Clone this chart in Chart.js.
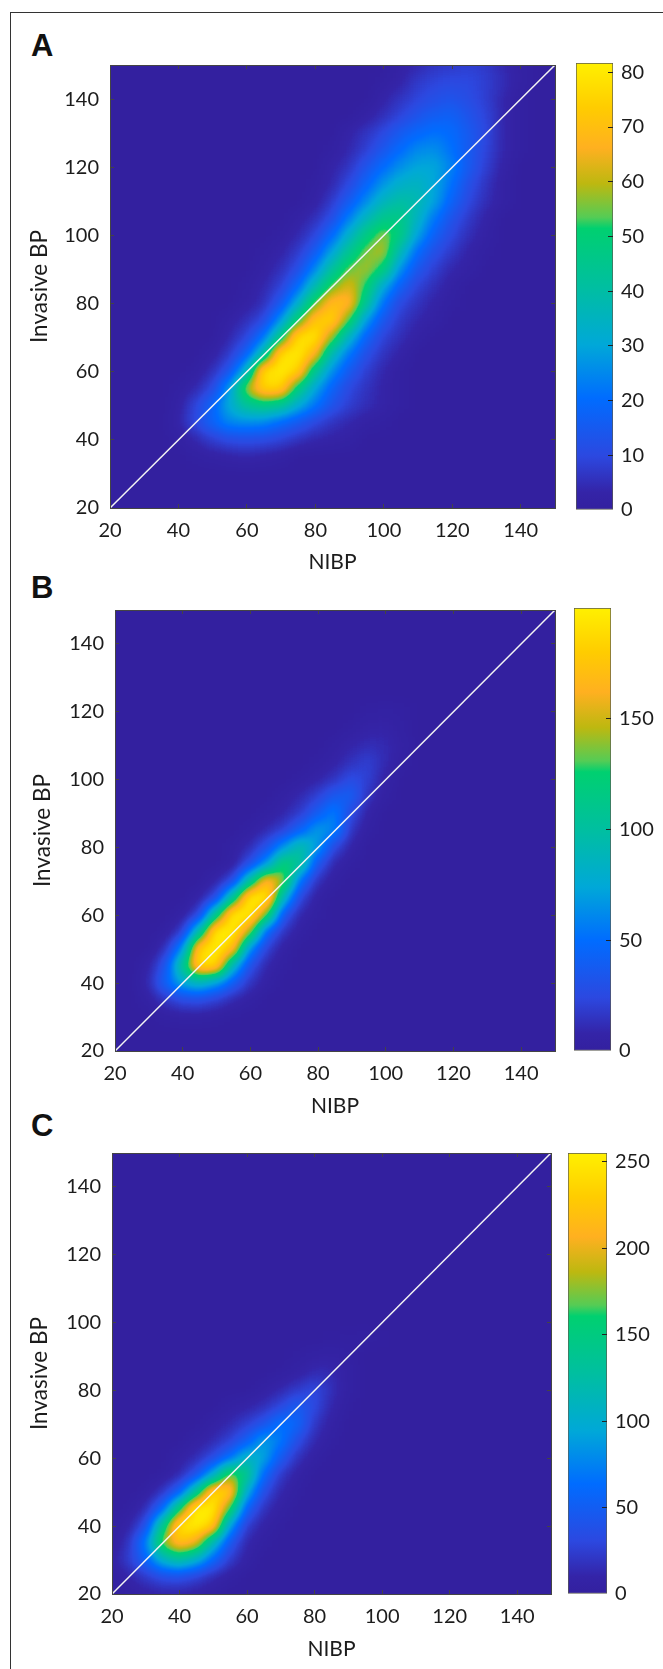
<!DOCTYPE html>
<html>
<head>
<meta charset="utf-8">
<title>NIBP vs invasive BP</title>
<script src="https://cdn.jsdelivr.net/npm/chart.js@4"></script>
<style>
html, body { margin: 0; padding: 0; background: #fff; }
body { position: relative; width: 663px; height: 1669px; overflow: hidden; }
canvas { position: absolute; }
#frame { position: absolute; left: 10px; top: 12px; width: 660px; height: 1670px; border: 1px solid #333; }
.letter { position: absolute; left: 31px; font: bold 31px "Liberation Sans", Arial, sans-serif; color: #111; line-height: 31px; }
</style>
</head>
<body>
<div id="frame"></div>
<div class="letter" style="top:30px">A</div>
<div class="letter" style="top:572px">B</div>
<div class="letter" style="top:1110px">C</div>
<script>
// heatmap grid, NIBP across, invasive BP down
const gridX = [20,25,30,35,40,45,50,55,60,65,70,75,80,85,90,95,100,105,110,115,120,125,130,135,140,145,150];
const gridY = [150,145,140,135,130,125,120,115,110,105,100,95,90,85,80,75,70,65,60,55,50,45,40,35,30,25,20];

const axisTicks = [20,40,60,80,100,120,140];
const colorbarTicksA = [10,20,30,40,50,60,70,80];
const colorbarTicksB = [50,100,150];
const colorbarTicksC = [50,100,150,200,250];

const heatA = [
  [0,0,0,0,0,0,0,0,0,0,0,0,0,0,0,0,0,2,4,6,7,8,7,4,2,0,0],
  [0,0,0,0,0,0,0,0,0,0,0,0,0,0,0,0,1,3,7,9,10,10,8,5,2,0,0],
  [0,0,0,0,0,0,0,0,0,0,0,0,0,0,0,0,3,6,9,12,13,11,8,4,1,0,0],
  [0,0,0,0,0,0,0,0,0,0,0,0,0,0,0,2,5,9,13,16,17,13,9,4,1,0,0],
  [0,0,0,0,0,0,0,0,0,0,0,0,0,0,3,6,10,15,19,21,20,15,10,4,1,0,0],
  [0,0,0,0,0,0,0,0,0,0,0,0,0,1,4,8,14,20,25,26,21,15,9,4,1,0,0],
  [0,0,0,0,0,0,0,0,0,0,0,0,0,3,6,13,20,26,30,30,24,15,8,3,0,0,0],
  [0,0,0,0,0,0,0,0,0,0,0,0,1,4,10,18,27,33,35,30,21,12,6,2,0,0,0],
  [0,0,0,0,0,0,0,0,0,0,0,0,2,7,15,25,35,40,38,29,18,10,5,2,0,0,0],
  [0,0,0,0,0,0,0,0,0,0,0,2,5,11,23,35,45,47,35,22,13,7,3,0,0,0,0],
  [0,0,0,0,0,0,0,0,0,0,1,4,9,19,33,47,57,48,29,17,10,5,2,0,0,0,0],
  [0,0,0,0,0,0,0,0,0,1,3,7,15,29,44,56,60,37,20,12,7,3,1,0,0,0,0],
  [0,0,0,0,0,0,0,0,0,2,5,11,24,41,55,59,50,26,14,8,4,2,0,0,0,0,0],
  [0,0,0,0,0,0,0,0,1,4,8,19,37,54,63,52,31,17,9,5,2,0,0,0,0,0,0],
  [0,0,0,0,0,0,0,0,2,5,14,31,54,70,70,44,21,10,6,3,1,0,0,0,0,0,0],
  [0,0,0,0,0,0,0,2,5,10,26,50,72,76,54,28,14,7,4,2,0,0,0,0,0,0,0],
  [0,0,0,0,0,0,0,4,9,21,45,78,80,58,34,18,9,5,2,0,0,0,0,0,0,0,0],
  [0,0,0,0,0,0,2,7,17,38,78,81,68,37,22,12,6,3,0,0,0,0,0,0,0,0,0],
  [0,0,0,0,0,1,5,13,33,78,81,76,44,26,15,8,4,1,0,0,0,0,0,0,0,0,0],
  [0,0,0,0,1,4,10,27,58,76,76,48,30,18,10,6,3,1,0,0,0,0,0,0,0,0,0],
  [0,0,0,0,2,9,18,31,43,47,44,32,22,13,8,5,3,1,0,0,0,0,0,0,0,0,0],
  [0,0,0,0,3,10,18,25,26,25,20,15,10,6,4,2,1,0,0,0,0,0,0,0,0,0,0],
  [0,0,0,0,1,4,8,11,12,11,9,6,4,3,2,0,0,0,0,0,0,0,0,0,0,0,0],
  [0,0,0,0,0,1,2,3,4,3,2,0,0,0,0,0,0,0,0,0,0,0,0,0,0,0,0],
  [0,0,0,0,0,0,0,0,0,0,0,0,0,0,0,0,0,0,0,0,0,0,0,0,0,0,0],
  [0,0,0,0,0,0,0,0,0,0,0,0,0,0,0,0,0,0,0,0,0,0,0,0,0,0,0],
  [0,0,0,0,0,0,0,0,0,0,0,0,0,0,0,0,0,0,0,0,0,0,0,0,0,0,0]
];

const heatB = [
  [0,0,0,0,0,0,0,0,0,0,0,0,0,0,0,0,0,0,0,0,0,0,0,0,0,0,0],
  [0,0,0,0,0,0,0,0,0,0,0,0,0,0,0,0,0,0,0,0,0,0,0,0,0,0,0],
  [0,0,0,0,0,0,0,0,0,0,0,0,0,0,0,0,0,0,0,0,0,0,0,0,0,0,0],
  [0,0,0,0,0,0,0,0,0,0,0,0,0,0,0,0,0,0,0,0,0,0,0,0,0,0,0],
  [0,0,0,0,0,0,0,0,0,0,0,0,0,0,0,0,0,0,0,0,0,0,0,0,0,0,0],
  [0,0,0,0,0,0,0,0,0,0,0,0,0,0,0,0,0,0,0,0,0,0,0,0,0,0,0],
  [0,0,0,0,0,0,0,0,0,0,0,0,0,0,0,2,3,2,0,0,0,0,0,0,0,0,0],
  [0,0,0,0,0,0,0,0,0,0,0,0,0,0,2,6,7,3,0,0,0,0,0,0,0,0,0],
  [0,0,0,0,0,0,0,0,0,0,0,0,0,3,8,12,11,5,0,0,0,0,0,0,0,0,0],
  [0,0,0,0,0,0,0,0,0,0,0,0,2,6,14,20,11,3,0,0,0,0,0,0,0,0,0],
  [0,0,0,0,0,0,0,0,0,0,0,2,7,15,27,20,6,0,0,0,0,0,0,0,0,0,0],
  [0,0,0,0,0,0,0,0,0,0,4,10,20,36,40,14,3,0,0,0,0,0,0,0,0,0,0],
  [0,0,0,0,0,0,0,0,0,3,9,18,38,58,26,6,0,0,0,0,0,0,0,0,0,0,0],
  [0,0,0,0,0,0,0,0,3,10,20,42,70,60,15,3,0,0,0,0,0,0,0,0,0,0,0],
  [0,0,0,0,0,0,0,3,11,30,65,98,70,24,7,0,0,0,0,0,0,0,0,0,0,0,0],
  [0,0,0,0,0,0,0,4,28,65,125,105,34,9,2,0,0,0,0,0,0,0,0,0,0,0,0],
  [0,0,0,0,0,0,7,25,100,175,140,50,13,3,0,0,0,0,0,0,0,0,0,0,0,0,0],
  [0,0,0,0,0,6,25,105,199,199,85,22,5,0,0,0,0,0,0,0,0,0,0,0,0,0,0],
  [0,0,0,0,4,22,110,199,199,135,34,9,2,0,0,0,0,0,0,0,0,0,0,0,0,0,0],
  [0,0,0,2,18,95,199,199,145,45,14,4,0,0,0,0,0,0,0,0,0,0,0,0,0,0,0],
  [0,0,0,13,60,185,199,175,62,20,5,0,0,0,0,0,0,0,0,0,0,0,0,0,0,0,0],
  [0,0,6,32,105,190,190,85,30,9,2,0,0,0,0,0,0,0,0,0,0,0,0,0,0,0,0],
  [0,0,10,42,75,88,70,40,15,5,0,0,0,0,0,0,0,0,0,0,0,0,0,0,0,0,0],
  [0,0,5,16,26,28,20,10,4,0,0,0,0,0,0,0,0,0,0,0,0,0,0,0,0,0,0],
  [0,0,0,3,5,5,3,1,0,0,0,0,0,0,0,0,0,0,0,0,0,0,0,0,0,0,0],
  [0,0,0,0,0,0,0,0,0,0,0,0,0,0,0,0,0,0,0,0,0,0,0,0,0,0,0],
  [0,0,0,0,0,0,0,0,0,0,0,0,0,0,0,0,0,0,0,0,0,0,0,0,0,0,0]
];

const heatC = [
  [0,0,0,0,0,0,0,0,0,0,0,0,0,0,0,0,0,0,0,0,0,0,0,0,0,0,0],
  [0,0,0,0,0,0,0,0,0,0,0,0,0,0,0,0,0,0,0,0,0,0,0,0,0,0,0],
  [0,0,0,0,0,0,0,0,0,0,0,0,0,0,0,0,0,0,0,0,0,0,0,0,0,0,0],
  [0,0,0,0,0,0,0,0,0,0,0,0,0,0,0,0,0,0,0,0,0,0,0,0,0,0,0],
  [0,0,0,0,0,0,0,0,0,0,0,0,0,0,0,0,0,0,0,0,0,0,0,0,0,0,0],
  [0,0,0,0,0,0,0,0,0,0,0,0,0,0,0,0,0,0,0,0,0,0,0,0,0,0,0],
  [0,0,0,0,0,0,0,0,0,0,0,0,0,0,0,0,0,0,0,0,0,0,0,0,0,0,0],
  [0,0,0,0,0,0,0,0,0,0,0,0,0,0,0,0,0,0,0,0,0,0,0,0,0,0,0],
  [0,0,0,0,0,0,0,0,0,0,0,0,0,0,0,0,0,0,0,0,0,0,0,0,0,0,0],
  [0,0,0,0,0,0,0,0,0,0,0,0,0,0,0,0,0,0,0,0,0,0,0,0,0,0,0],
  [0,0,0,0,0,0,0,0,0,0,0,0,0,0,0,0,0,0,0,0,0,0,0,0,0,0,0],
  [0,0,0,0,0,0,0,0,0,0,0,0,0,1,2,3,1,0,0,0,0,0,0,0,0,0,0],
  [0,0,0,0,0,0,0,0,0,0,0,2,5,7,4,0,0,0,0,0,0,0,0,0,0,0,0],
  [0,0,0,0,0,0,0,0,0,0,2,6,14,14,5,0,0,0,0,0,0,0,0,0,0,0,0],
  [0,0,0,0,0,0,0,0,0,5,12,22,32,17,5,0,0,0,0,0,0,0,0,0,0,0,0],
  [0,0,0,0,0,0,0,5,9,16,30,50,32,12,2,0,0,0,0,0,0,0,0,0,0,0,0],
  [0,0,0,0,0,0,6,13,24,40,68,58,22,7,0,0,0,0,0,0,0,0,0,0,0,0,0],
  [0,0,0,0,0,6,13,26,50,90,72,36,13,3,0,0,0,0,0,0,0,0,0,0,0,0,0],
  [0,0,0,0,6,14,32,62,110,95,48,18,5,0,0,0,0,0,0,0,0,0,0,0,0,0,0],
  [0,0,0,2,12,38,95,180,145,62,22,7,0,0,0,0,0,0,0,0,0,0,0,0,0,0,0],
  [0,0,3,18,50,130,240,235,100,36,12,3,0,0,0,0,0,0,0,0,0,0,0,0,0,0,0],
  [0,2,14,55,150,255,255,170,55,18,6,0,0,0,0,0,0,0,0,0,0,0,0,0,0,0,0],
  [2,8,35,135,245,255,235,90,25,8,2,0,0,0,0,0,0,0,0,0,0,0,0,0,0,0,0],
  [2,18,70,175,225,205,115,45,12,3,0,0,0,0,0,0,0,0,0,0,0,0,0,0,0,0,0],
  [6,24,55,105,130,105,60,24,7,0,0,0,0,0,0,0,0,0,0,0,0,0,0,0,0,0,0],
  [2,10,22,35,38,28,14,5,0,0,0,0,0,0,0,0,0,0,0,0,0,0,0,0,0,0,0],
  [0,3,7,10,10,7,3,0,0,0,0,0,0,0,0,0,0,0,0,0,0,0,0,0,0,0,0]
];

const identityLine = [20, 150];

// colour scale (fraction of range, colour)
const mapStops = [0, 0.04, 0.12, 0.25, 0.37, 0.5, 0.63, 0.655, 0.73, 0.81, 0.9, 1];
const mapColors = ['#33209f','#3424a8','#2c48e0','#006cff','#00a8d8','#00bfa0','#00d070','#55cc55','#bdb810','#ffb020','#ffcc00','#fff000'];

const textColor = '#1c1c1c';
const lineColor = '#444';
const tickFont = { family: 'Lato', size: 20 };
const xTitleFont = { family: 'Lato', size: 21 };
const yTitleFont = { family: 'Lato', size: 22.5 };
const blurPx = 7;

function hexToRgb(h) {
  return [parseInt(h.substr(1,2),16), parseInt(h.substr(3,2),16), parseInt(h.substr(5,2),16)];
}

function colorAt(f) {
  for (let i = 1; i < mapStops.length; i++) {
    if (f <= mapStops[i]) {
      let t = (f - mapStops[i-1]) / (mapStops[i] - mapStops[i-1]);
      let a = hexToRgb(mapColors[i-1]), b = hexToRgb(mapColors[i]);
      return a.map((v, k) => Math.round(v + (b[k]-v)*t));
    }
  }
  return hexToRgb(mapColors[mapColors.length-1]);
}

var lut = [];
for (let i = 0; i < 256; i++) lut.push(colorAt(i / 255));

function addCanvas(left, top, width, height) {
  let c = document.createElement('canvas');
  c.width = width;
  c.height = height;
  c.style.left = left + 'px';
  c.style.top = top + 'px';
  c.style.width = width + 'px';
  c.style.height = height + 'px';
  document.body.appendChild(c);
  return c;
}

// cells are painted as grey levels, smoothed, then pushed through the colour scale
const smoothCells = {
  id: 'smoothCells',
  afterDatasetDraw(chart, args) {
    if (args.index !== 1) return;
    let a = chart.chartArea, ctx = chart.ctx, src = chart.canvas;
    let l = Math.round(a.left), t = Math.round(a.top), w = Math.round(a.width), h = Math.round(a.height);
    let m = 24;

    let tmp = document.createElement('canvas');
    tmp.width = w + m*2;
    tmp.height = h + m*2;
    let tc = tmp.getContext('2d');
    tc.fillStyle = '#000';
    tc.fillRect(0, 0, tmp.width, tmp.height);
    tc.drawImage(src, l, t, w, 1, m, 0, w, m);
    tc.drawImage(src, l, t+h-1, w, 1, m, m+h, w, m);
    tc.drawImage(src, l, t, 1, h, 0, m, m, h);
    tc.drawImage(src, l+w-1, t, 1, h, m+w, m, m, h);
    tc.drawImage(src, l, t, w, h, m, m, w, h);

    let out = document.createElement('canvas');
    out.width = w;
    out.height = h;
    let oc = out.getContext('2d');
    oc.filter = `blur(${blurPx}px)`;
    oc.drawImage(tmp, -m, -m);
    oc.filter = 'none';

    let img = oc.getImageData(0, 0, w, h);
    for (let i = 0; i < img.data.length; i += 4) {
      let c = lut[img.data[i]];
      img.data[i] = c[0];
      img.data[i+1] = c[1];
      img.data[i+2] = c[2];
      img.data[i+3] = 255;
    }
    ctx.putImageData(img, l, t);
  }
};

function useTicks(values) {
  return (s) => { s.ticks = values.map(v => ({ value: v })); };
}

function axisOptions(position, extra) {
  return Object.assign({
    type: 'linear',
    position: position,
    min: 20,
    max: 150,
    afterBuildTicks: useTicks(axisTicks),
    grid: { drawOnChartArea: false, tickLength: -4, color: lineColor, z: 1 },
    border: { color: lineColor, width: 1, z: 1 }
  }, extra);
}

function drawPanel(p) {
  let yAxisW = p.left - p.yTitleX + 13;
  let xAxisH = p.xTitleY + 13 - p.bottom;
  let cv = addCanvas(p.left - yAxisW, p.top - 4, p.right - p.left + yAxisW + 4, p.bottom - p.top + 4 + xAxisH);

  let cells = [];
  gridY.forEach((y, r) => gridX.forEach((x, k) => cells.push({ x: x, y: y, v: p.heat[r][k] })));

  new Chart(cv, {
    type: 'scatter',
    data: {
      datasets: [
        {
          data: identityLine.map(v => ({ x: v, y: v })),
          showLine: true,
          borderColor: '#f4f4f4',
          borderWidth: 1.5,
          pointRadius: 0
        },
        {
          data: cells,
          clip: 0,
          pointStyle: 'rect',
          borderWidth: 0,
          pointRadius: (c) => {
            let s = c.chart.scales.x;
            return (s.getPixelForValue(25) - s.getPixelForValue(20)) * Math.SQRT1_2 + 1;
          },
          backgroundColor: (c) => {
            let g = c.raw ? Math.round(255 * Math.min(1, c.raw.v / p.max)) : 0;
            return `rgb(${g},${g},${g})`;
          }
        }
      ]
    },
    options: {
      responsive: false,
      animation: false,
      events: [],
      layout: { padding: { top: 4, right: 4, left: 0, bottom: 0 } },
      plugins: { legend: { display: false }, tooltip: { enabled: false } },
      scales: {
        x: axisOptions('bottom', {
          afterFit: (s) => { s.height = xAxisH; s.paddingLeft = 0; s.paddingRight = 0; },
          title: { display: true, text: 'NIBP', color: textColor, font: xTitleFont, padding: 0 },
          ticks: { maxRotation: 0, autoSkip: false, color: textColor, font: tickFont, padding: 15 }
        }),
        y: axisOptions('left', {
          afterFit: (s) => { s.width = yAxisW; s.paddingTop = 0; s.paddingBottom = 0; },
          title: { display: true, text: 'Invasive BP', color: textColor, font: yTitleFont, padding: 0 },
          ticks: { autoSkip: false, color: textColor, font: tickFont, padding: 15 }
        }),
        x2: axisOptions('top', {
          afterFit: (s) => { s.height = 0; s.paddingLeft = 0; s.paddingRight = 0; },
          ticks: { display: false }
        }),
        y2: axisOptions('right', {
          afterFit: (s) => { s.width = 0; s.paddingTop = 0; s.paddingBottom = 0; },
          ticks: { display: false }
        })
      }
    },
    plugins: [smoothCells]
  });

  // colorbar
  let cbAxisW = 54;
  let cb = addCanvas(p.cbLeft - 1, p.cbTop - 1, p.cbRight - p.cbLeft + 2 + cbAxisW, p.cbBottom - p.cbTop + 14);
  new Chart(cb, {
    type: 'bar',
    data: {
      labels: ['colorbar'],
      datasets: [{
        data: [[0, p.max]],
        barPercentage: 1,
        categoryPercentage: 1,
        borderWidth: 1,
        borderColor: '#5a5a50',
        borderSkipped: false,
        backgroundColor: (c) => {
          let s = c.chart.scales.y;
          let y0 = s ? s.getPixelForValue(0) : NaN, y1 = s ? s.getPixelForValue(p.max) : NaN;
          if (!isFinite(y0) || !isFinite(y1)) return mapColors[0];
          let g = c.chart.ctx.createLinearGradient(0, y0, 0, y1);
          mapStops.forEach((f, i) => g.addColorStop(f, mapColors[i]));
          return g;
        }
      }]
    },
    options: {
      responsive: false,
      animation: false,
      events: [],
      layout: { padding: { top: 1, left: 1, right: 0, bottom: 13 } },
      plugins: { legend: { display: false }, tooltip: { enabled: false } },
      scales: {
        x: { display: false },
        y: {
          position: 'right',
          min: 0,
          max: p.max,
          afterBuildTicks: useTicks([0].concat(p.cbTicks)),
          afterFit: (s) => { s.width = cbAxisW; s.paddingTop = 0; s.paddingBottom = 0; },
          grid: { drawOnChartArea: false, tickLength: -5, color: (c) => c.tick && c.tick.value === 0 ? 'rgba(0,0,0,0)' : '#222', z: 1 },
          border: { display: false },
          ticks: { autoSkip: false, color: textColor, font: tickFont, padding: 13 }
        }
      }
    }
  });
}

drawPanel({ heat: heatA, max: 81.7, cbTicks: colorbarTicksA, left: 110, right: 555, top: 65, bottom: 508, yTitleX: 39, xTitleY: 562, cbLeft: 576, cbRight: 612, cbTop: 63, cbBottom: 510 });
drawPanel({ heat: heatB, max: 199.7, cbTicks: colorbarTicksB, left: 115, right: 555, top: 610, bottom: 1051, yTitleX: 42, xTitleY: 1106, cbLeft: 574, cbRight: 610, cbTop: 608, cbBottom: 1051 });
drawPanel({ heat: heatC, max: 255, cbTicks: colorbarTicksC, left: 112, right: 551, top: 1153, bottom: 1594, yTitleX: 39, xTitleY: 1649, cbLeft: 568, cbRight: 606, cbTop: 1153, cbBottom: 1594 });
</script>
</body>
</html>
